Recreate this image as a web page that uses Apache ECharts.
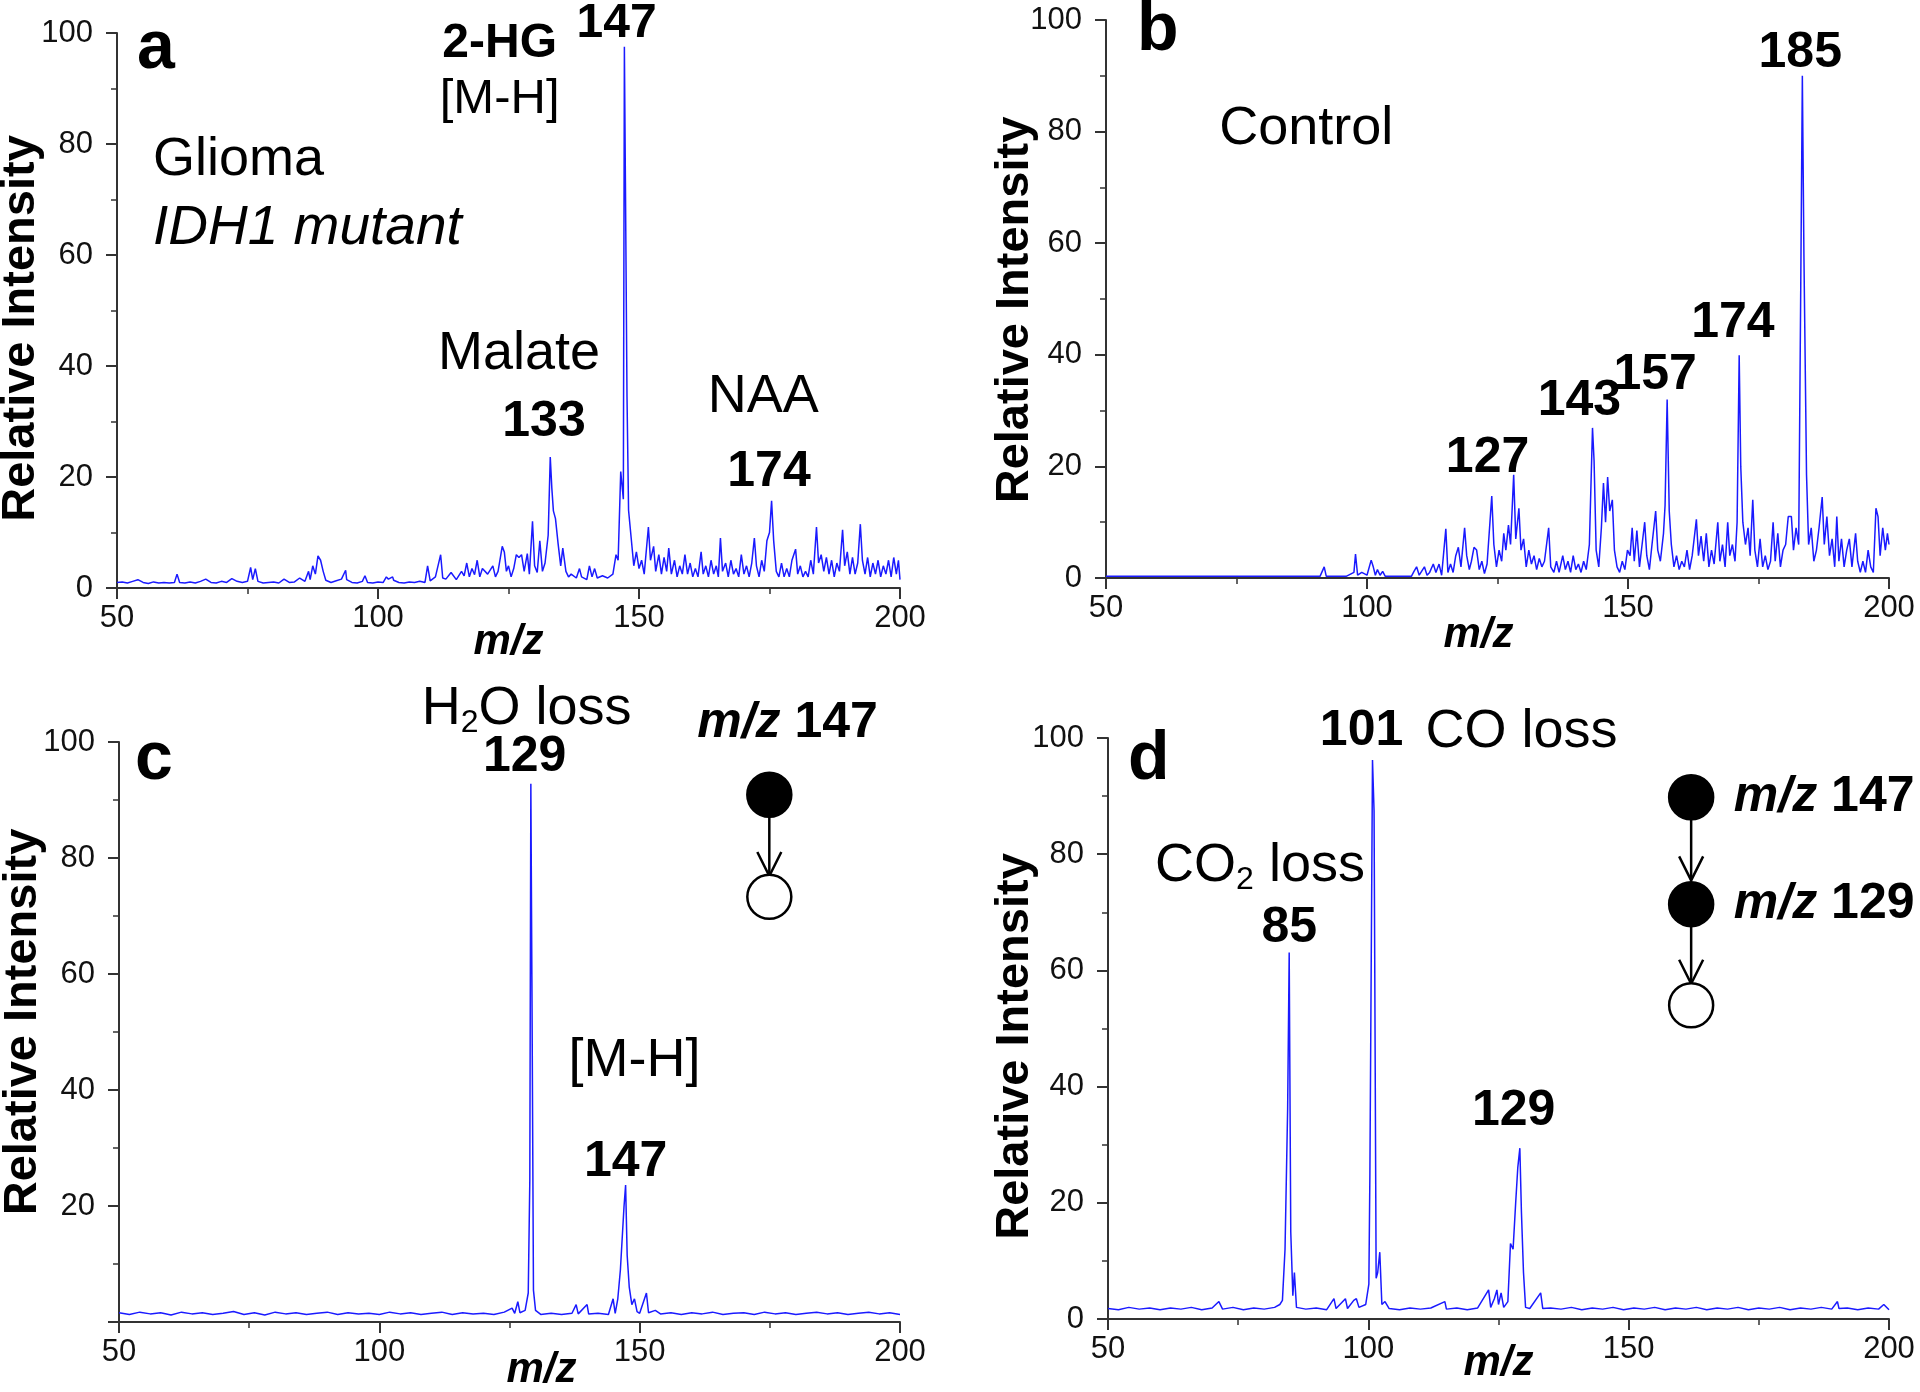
<!DOCTYPE html>
<html><head><meta charset="utf-8">
<script src="https://cdn.jsdelivr.net/npm/echarts@6/dist/echarts.min.js"></script>
<style>html,body{margin:0;padding:0;background:#fff}#c{width:1920px;height:1392px}</style>
</head><body><div id="c"></div>
<script>
// ---------------- DATA ----------------
const xTickValues = [50, 100, 150, 200];
const yTickValues = [0, 20, 40, 60, 80, 100];

// Panel a: Glioma IDH1 mutant  [m/z, relative intensity]
const spectrumA = [[50,1.0],[51,1.1],[52,0.9],[53,1.2],[54,1.5],[55,1.0],[56,0.8],[57,1.1],[58,0.9],[59,1.0],[60,0.9],[61,1.0],[61.5,2.5],[62,1.0],[63,0.9],[64,1.1],[65,0.9],[66,1.2],[67,1.6],[68,1.0],[69,0.9],[70,1.2],[71,1.0],[72,1.7],[73,1.2],[74,1.0],[75,1.2],[75.6,3.7],[76,1.5],[76.5,3.5],[77,1.2],[78,0.9],[79,1.0],[80,1.1],[81,0.9],[82,1.6],[83,1.0],[84,1.1],[85,1.8],[86,1.2],[86.7,3.0],[87,1.5],[87.5,4.0],[88,2.5],[88.5,5.8],[89,5.0],[89.5,3.0],[90,1.4],[91,1.0],[92,1.3],[93,1.6],[93.8,3.2],[94,1.5],[95,1.0],[96,0.9],[97,1.2],[97.5,2.2],[98,1.0],[99,0.9],[100,1.1],[101,1.0],[101.6,2.0],[102,1.6],[102.8,2.0],[103,1.4],[104,1.0],[105,0.9],[106,1.1],[107,1.0],[108,1.2],[109,1.0],[109.5,4.0],[110,1.3],[111,2.0],[112,6.0],[112.4,1.8],[113,1.6],[114,2.8],[115,1.5],[116,3.0],[116.5,2.2],[117,4.5],[117.5,2.0],[118,3.5],[118.5,2.4],[119,5.0],[119.5,2.0],[120,3.5],[121,2.5],[122,4.0],[122.5,2.0],[123,3.0],[123.8,7.5],[124.2,6.5],[124.6,3.0],[125,4.0],[125.5,2.0],[126,3.5],[126.5,6.0],[127,5.5],[127.5,6.0],[128,3.0],[128.6,6.2],[129,2.5],[129.6,12.0],[130,4.0],[130.5,2.8],[131,8.5],[131.5,3.0],[132,4.5],[132.6,9.5],[133,23.6],[133.3,18.0],[133.6,13.9],[134,12.5],[134.5,8.0],[135,4.0],[135.4,7.2],[136,3.0],[136.5,2.0],[137,2.5],[138,1.8],[138.6,3.5],[139,2.0],[140,1.5],[140.5,4.0],[141,2.0],[141.5,3.5],[142,1.8],[143,2.2],[144,1.8],[145,2.5],[145.6,6.0],[146,5.0],[146.5,21.0],[147,16.0],[147.2,97.5],[147.4,73.0],[147.7,34.6],[148,14.0],[148.5,9.0],[149,4.0],[149.5,6.5],[150,3.5],[150.5,5.0],[151,2.5],[151.8,11.0],[152.2,5.0],[152.8,7.5],[153.2,3.0],[153.8,6.0],[154.3,2.5],[154.8,5.5],[155.3,3.0],[155.7,7.2],[156.2,2.5],[156.8,5.0],[157.3,2.0],[157.8,4.0],[158.3,2.5],[158.8,6.0],[159.3,2.5],[159.8,4.5],[160.3,2.0],[160.8,3.5],[161.3,2.0],[161.9,6.5],[162.3,2.5],[162.8,4.0],[163.3,2.0],[163.8,5.0],[164.3,2.5],[164.8,4.0],[165.2,2.0],[165.6,9.0],[166,3.0],[166.6,4.5],[167.1,2.0],[167.6,5.0],[168.1,2.5],[168.6,3.5],[169.1,2.0],[169.6,6.0],[170.1,2.5],[170.6,4.0],[171.1,2.0],[171.6,4.5],[172.1,9.0],[172.5,4.0],[173,2.0],[173.5,5.0],[174,3.0],[174.5,8.5],[175,10.0],[175.4,15.7],[175.8,8.5],[176.3,3.0],[176.8,2.0],[177.3,4.5],[177.8,2.0],[178.3,3.5],[178.8,2.0],[179.3,5.0],[180,7.0],[180.4,2.5],[180.9,4.0],[181.4,2.0],[181.9,3.0],[182.4,2.0],[182.9,5.0],[183.4,2.5],[184,11.0],[184.4,4.5],[184.9,6.0],[185.4,3.0],[185.9,5.5],[186.4,2.5],[186.9,5.0],[187.4,2.0],[187.9,4.5],[188.4,3.0],[189,10.5],[189.4,4.0],[189.9,6.5],[190.4,2.5],[190.9,5.5],[191.4,2.5],[191.9,4.5],[192.4,11.5],[192.8,5.0],[193.3,2.5],[193.8,5.5],[194.3,2.0],[194.8,4.5],[195.3,2.5],[195.8,5.0],[196.3,2.0],[196.8,4.0],[197.3,2.5],[197.8,5.0],[198.3,2.0],[198.8,5.5],[199.3,2.5],[199.7,5.0],[200,1.5]];

// Panel b: Control
const spectrumB = [[50,0.3],[70,0.3],[75,0.3],[91,0.3],[91.8,2.0],[92.2,0.3],[96,0.3],[97.5,1.0],[97.8,4.3],[98.2,0.5],[99,1.0],[100,0.5],[100.8,3.2],[101.2,2.0],[101.6,0.5],[102,1.5],[102.5,0.5],[103,1.2],[103.5,0.3],[108.5,0.3],[109,1.2],[109.5,2.0],[110,0.5],[111,2.0],[111.5,0.5],[112,1.0],[112.7,2.5],[113.2,1.0],[113.8,2.5],[114.3,0.5],[115.1,8.8],[115.5,1.0],[116,2.5],[116.5,1.0],[117,4.0],[117.5,5.5],[118,2.0],[118.7,9.0],[119.1,4.0],[119.6,1.5],[120,3.0],[120.5,5.5],[121,5.0],[121.5,1.5],[122,3.0],[122.5,0.8],[123,2.5],[123.9,14.7],[124.3,6.0],[124.8,2.0],[125.3,5.0],[125.8,3.0],[126.2,8.0],[126.6,5.0],[127.1,9.5],[127.5,6.0],[128.1,18.5],[128.5,7.0],[129.1,12.5],[129.5,5.0],[130,7.0],[130.5,2.0],[131,5.0],[131.5,2.5],[132,4.0],[132.5,1.5],[133,3.5],[133.5,2.0],[134,3.0],[134.8,9.0],[135.2,2.0],[135.8,1.0],[136.3,3.0],[136.8,1.0],[137.5,4.0],[138,1.5],[138.5,3.0],[139,1.0],[139.5,4.0],[140,1.5],[140.5,2.5],[141,1.0],[141.5,3.0],[142,1.5],[142.6,6.0],[143.2,26.9],[143.5,21.0],[143.9,5.0],[144.4,2.0],[144.9,9.0],[145.3,17.0],[145.7,10.0],[146.1,18.1],[146.5,12.0],[147,14.0],[147.4,5.0],[147.9,2.0],[148.4,1.0],[148.9,3.0],[149.4,1.5],[149.9,5.0],[150.4,4.0],[150.8,9.0],[151.2,3.0],[151.7,8.5],[152.2,2.0],[152.7,6.0],[153.2,10.0],[153.6,4.0],[154.1,1.5],[154.6,6.0],[155.3,12.0],[155.7,5.0],[156.2,3.0],[156.8,8.0],[157.1,13.0],[157.5,32.0],[157.9,12.0],[158.3,6.0],[158.8,2.0],[159.3,4.0],[159.8,1.5],[160.3,3.0],[160.8,2.0],[161.3,5.0],[161.8,1.5],[162.3,4.0],[163.1,10.5],[163.5,4.0],[164,7.5],[164.5,3.0],[165,8.0],[165.5,2.0],[166,5.0],[166.5,2.5],[167.2,10.0],[167.6,3.0],[168.1,6.0],[168.6,2.0],[169.1,10.0],[169.5,4.0],[170,6.0],[170.5,3.0],[170.9,10.0],[171.3,39.9],[171.6,20.0],[172,10.0],[172.5,6.0],[173,9.0],[173.4,4.0],[173.9,14.0],[174.3,5.0],[174.8,2.0],[175.3,7.0],[175.8,2.0],[176.3,4.0],[176.8,1.5],[177.3,3.0],[177.8,10.0],[178.2,3.0],[178.7,8.0],[179.2,2.0],[179.7,5.0],[180.2,6.0],[180.7,11.0],[181.3,11.0],[181.7,5.0],[182.2,9.0],[182.7,6.0],[183.1,53.0],[183.4,90.0],[183.7,58.0],[184.2,18.5],[184.6,6.0],[185.1,9.0],[185.6,3.0],[186.1,5.0],[186.6,9.0],[187.2,14.5],[187.6,6.0],[188.1,11.0],[188.6,4.0],[189.1,7.0],[189.6,2.0],[190,11.0],[190.4,3.0],[190.9,7.0],[191.4,2.0],[191.9,5.0],[192.4,7.0],[192.9,2.0],[193.6,8.0],[194,3.0],[194.5,1.0],[195,3.0],[195.5,1.0],[196,5.0],[196.5,2.0],[197,1.0],[197.5,12.5],[197.9,11.0],[198.3,4.0],[198.8,9.0],[199.3,5.0],[199.7,8.0],[200,6.0]];

// Panel c: MS2 of m/z 147
const spectrumC = [[50,1.6],[52,1.3],[54,1.7],[56,1.4],[58,1.6],[60,1.2],[62,1.7],[64,1.4],[66,1.6],[68,1.3],[70,1.5],[72,1.8],[74,1.3],[76,1.6],[78,1.2],[80,1.7],[82,1.4],[84,1.6],[86,1.3],[88,1.5],[90,1.7],[92,1.3],[94,1.6],[96,1.4],[98,1.5],[100,1.3],[102,1.7],[104,1.4],[106,1.6],[108,1.3],[110,1.5],[112,1.7],[114,1.3],[116,1.6],[118,1.4],[120,1.5],[122,1.3],[124,1.7],[125.5,2.4],[126,1.5],[126.6,3.5],[127,1.6],[128,2.0],[128.6,5.0],[128.9,24.4],[129.1,92.8],[129.3,59.6],[129.6,5.5],[130,2.0],[131,1.3],[133,1.5],[135,1.3],[137,1.5],[137.8,3.0],[138.2,1.4],[139.9,3.0],[140.2,1.4],[142,1.5],[144,1.3],[144.9,4.0],[145.3,1.5],[145.8,4.0],[146.3,9.0],[147,20.0],[147.3,23.6],[147.6,11.5],[148,6.0],[148.5,3.0],[149,4.0],[149.5,1.8],[150,1.5],[151.3,5.0],[151.7,1.6],[153,2.0],[154,1.4],[156,1.6],[158,1.3],[160,1.6],[162,1.4],[164,1.7],[166,1.3],[168,1.5],[170,1.6],[172,1.3],[174,1.7],[176,1.4],[178,1.6],[180,1.3],[182,1.5],[184,1.7],[186,1.4],[188,1.6],[190,1.3],[192,1.5],[194,1.7],[196,1.4],[198,1.6],[200,1.3]];

// Panel d: MS3 147 -> 129
const spectrumD = [[50,1.8],[52,1.6],[54,2.0],[56,1.7],[58,1.9],[60,1.6],[62,1.9],[64,1.7],[66,2.0],[68,1.6],[70,1.9],[71.3,3.0],[72,1.7],[74,2.0],[76,1.6],[78,1.9],[80,1.7],[82,2.0],[83,2.5],[83.5,3.2],[84,12.0],[84.5,36.1],[84.8,63.1],[85.1,15.0],[85.5,4.0],[85.8,8.0],[86.2,2.0],[88,1.7],[90,1.9],[92,1.6],[93.4,3.5],[93.8,1.8],[95.6,3.5],[96,1.8],[97.2,3.2],[97.7,3.5],[98.2,2.0],[99.5,2.5],[100.1,6.0],[100.3,25.0],[100.8,96.2],[101.1,87.4],[101.5,7.0],[101.8,8.0],[102.2,11.5],[102.6,2.5],[103.2,3.0],[104,1.8],[106,1.6],[108,1.9],[110,1.7],[112,1.9],[114.7,3.0],[115,1.7],[117,1.9],[119,1.6],[121,1.9],[123.1,5.0],[123.5,2.0],[124.2,3.5],[124.7,5.0],[125,2.5],[125.5,4.5],[126,2.0],[126.8,3.0],[127.3,13.0],[127.8,12.0],[128.3,20.0],[128.7,26.0],[129.1,29.4],[129.4,18.5],[129.8,8.0],[130.2,2.0],[131,1.8],[133.1,4.5],[133.5,1.8],[135,1.9],[137,1.7],[139,2.0],[141,1.6],[143,1.9],[145,1.7],[147,2.0],[149,1.6],[151,1.9],[153,1.7],[155,2.0],[157,1.6],[159,1.9],[161,1.7],[163,2.0],[165,1.6],[167,1.9],[169,1.7],[171,2.0],[173,1.6],[175,1.9],[177,1.7],[179,2.0],[181,1.6],[183,1.9],[185,1.7],[187,2.0],[189,1.7],[190.1,3.0],[190.4,1.8],[192,1.9],[194,1.6],[196,1.9],[198,1.7],[199,2.5],[200,1.6]];

const panelLetters = ['a', 'b', 'c', 'd'];
const yAxisTitle = 'Relative Intensity';
const xAxisTitle = 'm/z';

// ---------------- LAYOUT / STYLE ----------------
const FONT = "'Liberation Sans', Arial, Helvetica, sans-serif";
const BLUE = '#1a1aff';
const AXIS = '#333333';

const grids = [
  {left: 117, top: 33, width: 783, height: 555},
  {left: 1106, top: 20, width: 783, height: 558},
  {left: 119, top: 742, width: 781, height: 580},
  {left: 1108, top: 738, width: 781, height: 581}
].map(g => Object.assign(g, {containLabel: false, outerBoundsMode: 'none'}));
const xNameGap = [33, 36, 27, 23];
const yNameGap = [72, 67, 72, 69];
// padding [top,right,bottom,left] used to shift axis titles along their axis
const xNamePad = [[0, 0, 0, 0], [0, 38, 0, 0], [0, 0, 0, 64], [0, 0, 0, 0]];
const yNamePad = [[0, 36, 0, 0], [0, 22, 0, 0], [0, 0, 0, 20], [0, 36, 0, 0]];
const letterPos = [[137, 49], [1137, 31], [135, 760], [1128, 760]];

// annotations in data coordinates of each panel: [m/z, intensity, rich text, align]
const notes = [
  [ [123.3, 98.1, '{b|2-HG}', 'center'],
    [145.7, 101.6, '{b|147}', 'center'],
    [123.3, 88.1, '{n|[M-H]}', 'center'],
    [56.9, 77.1, '{t|Glioma}', 'left'],
    [56.9, 64.7, '{i|IDH1 mutant}', 'left'],
    [127.0, 42.2, '{t|Malate}', 'center'],
    [131.8, 29.9, '{B|133}', 'center'],
    [173.8, 34.4, '{t|NAA}', 'center'],
    [174.9, 20.8, '{B|174}', 'center'] ],
  [ [183.0, 94.0, '{B|185}', 'center'],
    [170.1, 45.6, '{B|174}', 'center'],
    [155.2, 36.3, '{B|157}', 'center'],
    [140.7, 31.6, '{B|143}', 'center'],
    [123.1, 21.4, '{B|127}', 'center'],
    [71.7, 80.4, '{t|Control}', 'left'] ],
  [ [128.3, 105.6, '{t|H}{s|2}{t|O loss}', 'center'],
    [127.9, 97.4, '{B|129}', 'center'],
    [178.4, 103.2, '{bi|m/z}{B| 147}', 'center'],
    [149.0, 45.0, '{t|[M-H]}', 'center'],
    [147.3, 27.5, '{B|147}', 'center'] ],
  [ [98.7, 101.2, '{B|101}', 'center'],
    [129.4, 101.0, '{t|CO loss}', 'center'],
    [79.2, 78.0, '{t|CO}{s|2}{t| loss}', 'center'],
    [84.8, 67.2, '{B|85}', 'center'],
    [127.9, 35.8, '{B|129}', 'center'],
    [170.2, 89.8, '{bi|m/z}{B| 147}', 'left'],
    [170.2, 71.4, '{bi|m/z}{B| 129}', 'left'] ]
];
// fragmentation diagrams: circles [m/z, intensity, filled] and arrows [m/z, from, to]
const circles = [
  [], [],
  [[174.9, 90.9, 1], [174.9, 73.3, 0]],
  [[162.0, 89.8, 1], [162.0, 71.4, 1], [162.0, 54.0, 0]]
];
const arrows = [
  [], [],
  [[174.9, 87.1, 76.9]],
  [[162.0, 86.4, 75.5], [162.0, 67.8, 57.7]]
];

const rich = {
  t: {fontSize: 54, fontFamily: FONT, color: '#000', lineHeight: 60},
  n: {fontSize: 49, fontFamily: FONT, color: '#000', lineHeight: 60},
  i: {fontSize: 55, fontFamily: FONT, fontStyle: 'italic', color: '#000', lineHeight: 60},
  b: {fontSize: 48, fontFamily: FONT, fontWeight: 'bold', color: '#000', lineHeight: 60},
  B: {fontSize: 50, fontFamily: FONT, fontWeight: 'bold', color: '#000', lineHeight: 60},
  bi: {fontSize: 50, fontFamily: FONT, fontWeight: 'bold', fontStyle: 'italic', color: '#000', lineHeight: 60},
  s: {fontSize: 32, fontFamily: FONT, color: '#000', lineHeight: 34, verticalAlign: 'bottom'}
};

const spectra = [spectrumA, spectrumB, spectrumC, spectrumD];
const xMin = xTickValues[0], xMax = xTickValues[xTickValues.length - 1], xInt = xTickValues[1] - xTickValues[0];
const yMin = yTickValues[0], yMax = yTickValues[yTickValues.length - 1], yInt = yTickValues[1] - yTickValues[0];

const xAxes = [], yAxes = [], series = [];
for (let k = 0; k < 4; k++) {
  xAxes.push({
    type: 'value', gridIndex: k, min: xMin, max: xMax, interval: xInt,
    axisLine: {show: true, onZero: false, lineStyle: {color: AXIS, width: 2}},
    axisTick: {show: true, inside: false, length: 11, lineStyle: {color: AXIS, width: 2}},
    minorTick: {show: true, splitNumber: 2, length: 6, lineStyle: {color: AXIS, width: 1.5}},
    splitLine: {show: false},
    axisLabel: {fontSize: 31, fontFamily: FONT, color: '#111', margin: 15},
    name: xAxisTitle, nameLocation: 'middle', nameGap: xNameGap[k], nameMoveOverlap: false,
    nameTextStyle: {fontSize: 42, fontFamily: FONT, fontWeight: 'bold', fontStyle: 'italic', color: '#000', padding: xNamePad[k]}
  });
  yAxes.push({
    type: 'value', gridIndex: k, min: yMin, max: yMax, interval: yInt,
    axisLine: {show: true, onZero: false, lineStyle: {color: AXIS, width: 2}},
    axisTick: {show: true, inside: false, length: 11, lineStyle: {color: AXIS, width: 2}},
    minorTick: {show: true, splitNumber: 2, length: 6, lineStyle: {color: AXIS, width: 1.5}},
    splitLine: {show: false},
    axisLabel: {fontSize: 31, fontFamily: FONT, color: '#111', margin: 24,
      formatter: (k === 2) ? (v => v === 0 ? '' : String(v)) : (v => String(v))},
    name: yAxisTitle, nameLocation: 'middle', nameGap: yNameGap[k], nameMoveOverlap: false,
    nameTextStyle: {fontSize: 47, fontFamily: FONT, fontWeight: 'bold', color: '#000', padding: yNamePad[k]}
  });
  series.push({
    type: 'line', xAxisIndex: k, yAxisIndex: k, data: spectra[k],
    showSymbol: false, symbol: 'none', silent: true,
    lineStyle: {color: BLUE, width: 1.5}, z: 3
  });
  series.push({
    type: 'scatter', xAxisIndex: k, yAxisIndex: k, clip: false, silent: true,
    symbolSize: 0, z: 5, itemStyle: {opacity: 1},
    data: notes[k].map(n => ({
      value: [n[0], n[1]],
      label: {show: true, position: 'inside', formatter: n[2], align: n[3], verticalAlign: 'middle', rich: rich, opacity: 1}
    }))
  });
  if (circles[k].length) {
    series.push({
      type: 'scatter', xAxisIndex: k, yAxisIndex: k, clip: false, silent: true, z: 6,
      symbol: 'circle', symbolSize: 44,
      data: circles[k].map(c => ({
        value: [c[0], c[1]],
        itemStyle: {color: c[2] ? '#000' : '#fff', borderColor: '#000', borderWidth: 2.5, opacity: 1}
      }))
    });
    series.push({
      type: 'custom', xAxisIndex: k, yAxisIndex: k, silent: true, z: 6,
      data: arrows[k],
      renderItem: (params, api) => {
        const p1 = api.coord([api.value(0), api.value(1)]);
        const p2 = api.coord([api.value(0), api.value(2)]);
        return {type: 'group', children: [
          {type: 'line', shape: {x1: p1[0], y1: p1[1], x2: p2[0], y2: p2[1]}, style: {stroke: '#000', lineWidth: 2.5}},
          {type: 'polyline', shape: {points: [[p2[0] - 12, p2[1] - 24], [p2[0], p2[1]], [p2[0] + 12, p2[1] - 24]]},
            style: {stroke: '#000', lineWidth: 2.5, fill: null}}
        ]};
      }
    });
  }
}

const graphics = panelLetters.map((L, k) => ({
  type: 'text', x: letterPos[k][0], y: letterPos[k][1], z: 10,
  style: {text: L, font: 'bold 68px ' + FONT, fill: '#000', textVerticalAlign: 'middle', textAlign: 'left'}
}));

const chart = echarts.init(document.getElementById('c'), null, {renderer: 'canvas'});
chart.setOption({
  animation: false,
  backgroundColor: '#fff',
  grid: grids,
  xAxis: xAxes,
  yAxis: yAxes,
  series: series,
  graphic: graphics
});
</script></body></html>
